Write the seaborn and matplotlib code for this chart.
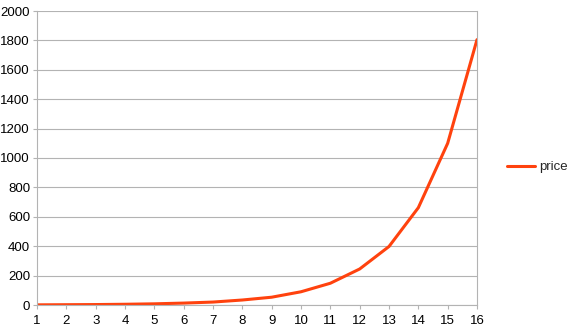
import matplotlib
matplotlib.use("Agg")
import matplotlib.pyplot as plt
import seaborn as sns
import pandas as pd

periods = list(range(1, 17))
price = [1, 2, 3, 5, 8, 13, 20, 34, 53, 90, 148, 245, 398, 662, 1100, 1805]
yticks = list(range(0, 2001, 200))

sns.set_style("white")
plt.rcParams['font.family'] = ['Liberation Sans', 'DejaVu Sans']

df = pd.DataFrame({"period": periods, "price": price})

fig = plt.figure(figsize=(5.75, 3.31), dpi=100)
ax = fig.add_axes([37/575, 26/331, 440/575, 294/331])

sns.lineplot(data=df, x="period", y="price", ax=ax, color="#ff420e",
             linewidth=2.2, label="price")

ax.set_xlim(1, 16)
ax.set_ylim(0, 2000)
ax.set_xticks(periods)
ax.set_yticks(yticks)
ax.set_xlabel("")
ax.set_ylabel("")
ax.grid(axis="y", color="#b3b3b3", linewidth=0.8)
ax.set_axisbelow(True)
ax.spines["top"].set_visible(False)
for s in ["left", "bottom", "right"]:
    ax.spines[s].set_visible(True)
    ax.spines[s].set_color("#b3b3b3")
    ax.spines[s].set_linewidth(0.8)
ax.tick_params(axis="both", direction="out", length=3, width=0.8,
               color="#b3b3b3", labelsize=9.5, labelcolor="black", pad=2)
ax.tick_params(axis="x", pad=4)
ax.tick_params(left=True, bottom=True)

ax.legend(loc="center left", bbox_to_anchor=(507/575, 1 - 167/331),
          bbox_transform=fig.transFigure, frameon=False, borderaxespad=0,
          borderpad=0, fontsize=9.5, handlelength=2.1, handletextpad=0.3)

fig.savefig("out.png", dpi=100)
